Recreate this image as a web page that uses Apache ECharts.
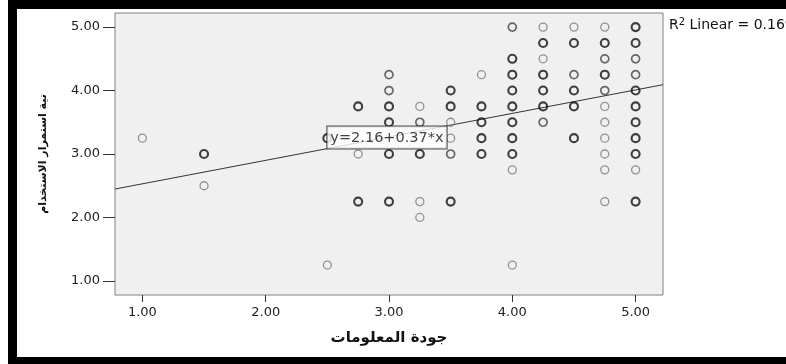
<!DOCTYPE html>
<html>
<head>
<meta charset="utf-8">
<script src="https://cdn.jsdelivr.net/npm/echarts@6/dist/echarts.min.js"></script>
<style>
  html, body { margin: 0; padding: 0; background: #fff; }
  #chart { width: 786px; height: 364px; }
</style>
</head>
<body>
<div id="chart"></div>
<script>
// Scatter of response pairs, grouped by how many cases share a point
// (more cases overlap -> darker ring).
const singlePoints = [
  [1.0, 3.25], [1.5, 2.5], [2.5, 1.25], [2.75, 3.0],
  [3.25, 3.75], [3.25, 2.25], [3.25, 2.0],
  [3.5, 3.5], [3.5, 3.25],
  [3.75, 4.25],
  [4.0, 2.75], [4.0, 1.25],
  [4.25, 5.0], [4.25, 4.5],
  [4.5, 5.0],
  [4.75, 5.0], [4.75, 3.75], [4.75, 3.5], [4.75, 3.25], [4.75, 3.0], [4.75, 2.75], [4.75, 2.25],
  [5.0, 2.75]
];
const doublePoints = [
  [3.0, 4.25], [3.0, 4.0],
  [3.25, 3.5],
  [3.5, 3.0],
  [4.0, 5.0],
  [4.25, 3.5],
  [4.5, 4.25],
  [4.75, 4.5], [4.75, 4.0],
  [5.0, 4.5], [5.0, 4.25]
];
const multiPoints = [
  [1.5, 3.0], [2.5, 3.25],
  [2.75, 3.75], [2.75, 2.25],
  [3.0, 3.75], [3.0, 3.5], [3.0, 3.0], [3.0, 2.25],
  [3.25, 3.0],
  [3.5, 4.0], [3.5, 3.75], [3.5, 2.25],
  [3.75, 3.75], [3.75, 3.5], [3.75, 3.25], [3.75, 3.0],
  [4.0, 4.5], [4.0, 4.25], [4.0, 4.0], [4.0, 3.75], [4.0, 3.5], [4.0, 3.25], [4.0, 3.0],
  [4.25, 4.75], [4.25, 4.25], [4.25, 4.0], [4.25, 3.75],
  [4.5, 4.75], [4.5, 4.0], [4.5, 3.75], [4.5, 3.25],
  [4.75, 4.75], [4.75, 4.25],
  [5.0, 5.0], [5.0, 4.75], [5.0, 4.0], [5.0, 3.75], [5.0, 3.5], [5.0, 3.25], [5.0, 3.0], [5.0, 2.25]
];

// Linear fit reported on the chart
const fitIntercept = 2.16;
const fitSlope = 0.37;
const rSquared = 0.169;

const xTicks = [1, 2, 3, 4, 5];
const yTicks = [1, 2, 3, 4, 5];
const axisMin = 0.7778;
const axisMax = 5.2222;

const xTitle = 'جودة المعلومات';
const yTitle = 'نية استمرار الاستخدام';

const fitAt = x => fitIntercept + fitSlope * x;
const fitLine = [[axisMin, fitAt(axisMin)], [axisMax, fitAt(axisMax)]];
const labelAnchorX = 2.5;

const tickFont = { fontFamily: 'DejaVu Sans', fontSize: 13, color: '#222' };

function ringSeries(name, data, color, width) {
  return {
    name, type: 'scatter', data,
    symbol: 'circle', symbolSize: 8,
    itemStyle: { color: 'rgba(0,0,0,0)', borderColor: color, borderWidth: width },
    z: 3, silent: true
  };
}

const chart = echarts.init(document.getElementById('chart'), null, { renderer: 'canvas' });
chart.setOption({
  animation: false,
  backgroundColor: '#ffffff',
  grid: {
    left: 115, top: 13, right: 123, bottom: 69,
    show: true, backgroundColor: '#f0f0f0', borderColor: '#808080', borderWidth: 1
  },
  xAxis: {
    type: 'value', min: axisMin, max: axisMax,
    axisLine: { show: false },
    splitLine: { show: false },
    axisTick: { show: true, customValues: xTicks, length: 7, lineStyle: { color: '#333' } },
    axisLabel: Object.assign({ customValues: xTicks, margin: 11, formatter: v => v.toFixed(2) }, tickFont),
    name: xTitle, nameLocation: 'middle', nameGap: 36,
    nameTextStyle: { fontFamily: 'DejaVu Sans', fontSize: 15, fontWeight: 'bold', color: '#111' }
  },
  yAxis: {
    type: 'value', min: axisMin, max: axisMax,
    axisLine: { show: false },
    splitLine: { show: false },
    axisTick: { show: true, customValues: yTicks, length: 12, lineStyle: { color: '#333' } },
    axisLabel: Object.assign({ customValues: yTicks, margin: 15, formatter: v => v.toFixed(2) }, tickFont),
    name: yTitle, nameLocation: 'middle', nameGap: 66, nameRotate: 90,
    nameTextStyle: { fontFamily: 'DejaVu Sans', fontSize: 11, fontWeight: 'bold', color: '#111' }
  },
  title: {
    text: 'R{sup|2} Linear = ' + rSquared.toFixed(3),
    left: 664, top: 12,
    textStyle: {
      fontFamily: 'DejaVu Sans', fontSize: 14, fontWeight: 'normal', color: '#111',
      rich: { sup: { fontFamily: 'DejaVu Sans', fontSize: 10, verticalAlign: 'top', padding: [0, 0, 6, 0], color: '#111' } }
    }
  },
  graphic: [
    { type: 'rect', shape: { x: 8, y: 0, width: 778, height: 9 }, style: { fill: '#000' }, z: 100 },
    { type: 'rect', shape: { x: 8, y: 0, width: 9, height: 364 }, style: { fill: '#000' }, z: 100 },
    { type: 'rect', shape: { x: 8, y: 357, width: 778, height: 7 }, style: { fill: '#000' }, z: 100 }
  ],
  series: [
    {
      name: 'fit', type: 'line', data: fitLine, showSymbol: false, silent: true,
      lineStyle: { color: '#333', width: 1 }, z: 2
    },
    ringSeries('single', singlePoints, '#7a7a7a', 1.3),
    ringSeries('double', doublePoints, '#444', 1.7),
    ringSeries('multi', multiPoints, '#111', 2.1),
    {
      name: 'equation', type: 'scatter', data: [[labelAnchorX, fitAt(labelAnchorX)]],
      symbolSize: 0, silent: true, z: 10,
      label: {
        show: true, position: [0, 0], align: 'left', verticalAlign: 'bottom',
        formatter: 'y=' + fitIntercept.toFixed(2) + '+' + fitSlope.toFixed(2) + '*x',
        fontFamily: 'DejaVu Sans', fontSize: 14.5, color: '#111',
        backgroundColor: '#fff', borderColor: '#222', borderWidth: 1,
        padding: [4, 3, 3, 3]
      }
    }
  ]
});
</script>
</body>
</html>
